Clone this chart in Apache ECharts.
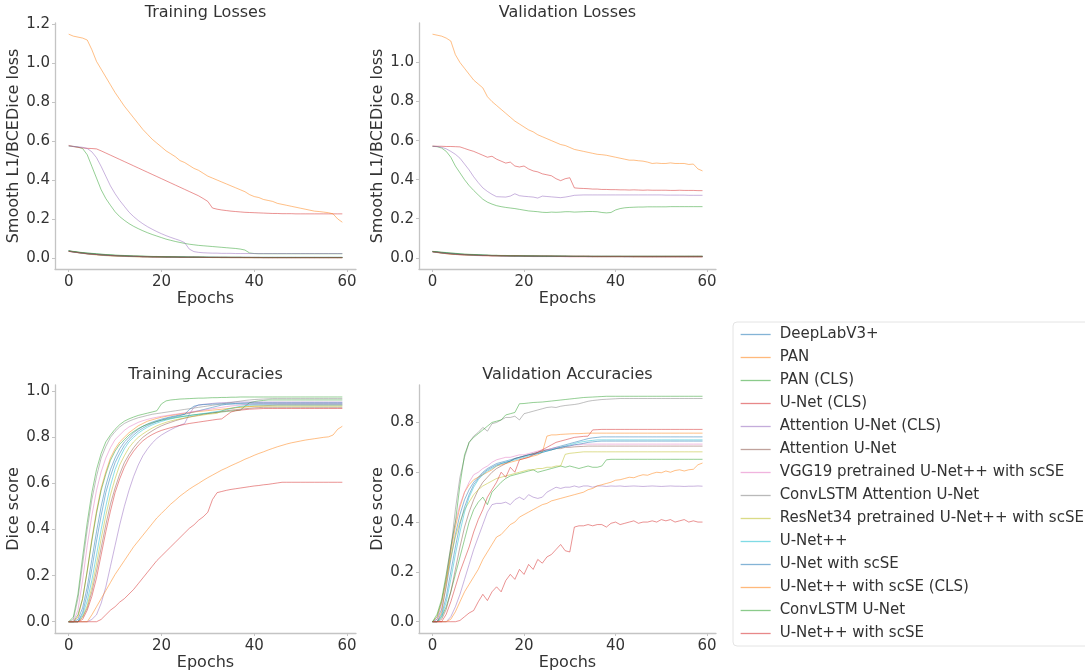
<!DOCTYPE html>
<html>
<head>
<meta charset="utf-8">
<script src="https://cdn.jsdelivr.net/npm/echarts@6/dist/echarts.min.js"></script>
<style>
  html, body { margin: 0; padding: 0; background: #fff; }
  #chart { width: 1085px; height: 672px; }
</style>
</head>
<body>
<div id="chart"></div>
<script>
// legend order, colours follow the default tab10 cycle
const models = [
  "DeepLabV3+", "PAN", "PAN (CLS)", "U-Net (CLS)", "Attention U-Net (CLS)",
  "Attention U-Net", "VGG19 pretrained U-Net++ with scSE", "ConvLSTM Attention U-Net",
  "ResNet34 pretrained U-Net++ with scSE", "U-Net++", "U-Net with scSE",
  "U-Net++ with scSE (CLS)", "ConvLSTM U-Net", "U-Net++ with scSE"
];
const colors = [
  "#1f77b4", "#ff7f0e", "#2ca02c", "#d62728", "#9467bd", "#8c564b", "#e377c2",
  "#7f7f7f", "#bcbd22", "#17becf", "#1f77b4", "#ff7f0e", "#2ca02c", "#d62728"
];

const xTicks = [0, 20, 40, 60];
const trainLossTicks = [0, 0.2, 0.4, 0.6, 0.8, 1.0, 1.2];
const valLossTicks = [0, 0.2, 0.4, 0.6, 0.8, 1.0];
const trainAccTicks = [0, 0.2, 0.4, 0.6, 0.8, 1.0];
const valAccTicks = [0, 0.2, 0.4, 0.6, 0.8];

// one row per model (same order as models), epochs 0..59
const trainLoss = [
  [.035,.031,.027,.024,.021,.019,.017,.015,.013,.012,
   .011,.010,.009,.008,.007,.007,.006,.006,.005,.005,
   .004,.004,.004,.004,.003,.003,.003,.003,.003,.003,
   .002,.002,.002,.002,.002,.002,.002,.002,.002,.002,
   .002,.002,.002,.002,.002,.002,.002,.002,.002,.002,
   .002,.002,.002,.002,.002,.002,.002,.002,.002,.002],
  [.034,.031,.028,.025,.022,.020,.018,.016,.014,.013,
   .012,.011,.010,.009,.008,.008,.007,.006,.006,.005,
   .005,.005,.004,.004,.004,.003,.003,.003,.003,.003,
   .002,.002,.002,.002,.002,.002,.002,.002,.001,.001,
   .001,.001,.001,.001,.001,.001,.001,.001,.001,.001,
   .001,.001,.001,.001,.001,.001,.001,.001,.001,.001],
  [.575,.573,.569,.562,.530,.470,.410,.350,.305,.270,
   .237,.212,.193,.176,.162,.150,.139,.129,.120,.112,
   .104,.096,.090,.084,.079,.074,.070,.067,.064,.062,
   .060,.058,.056,.054,.052,.050,.048,.045,.040,.025,
   .022,.021,.021,.021,.021,.021,.021,.021,.021,.021,
   .021,.021,.021,.021,.021,.021,.021,.021,.021,.021],
  [.578,.572,.568,.565,.563,.562,.560,.550,.539,.528,
   .517,.506,.495,.484,.473,.462,.451,.440,.429,.418,
   .407,.396,.385,.374,.363,.352,.341,.330,.319,.305,
   .290,.256,.250,.246,.243,.240,.238,.236,.234,.233,
   .232,.231,.230,.229,.228,.228,.227,.227,.227,.226,
   .226,.226,.226,.226,.226,.226,.226,.226,.226,.226],
  [.575,.573,.571,.568,.562,.545,.515,.470,.420,.370,
   .330,.295,.265,.235,.212,.192,.175,.160,.147,.135,
   .124,.114,.105,.097,.089,.078,.045,.032,.028,.026,
   .025,.024,.024,.023,.023,.023,.022,.022,.022,.022,
   .022,.022,.022,.022,.022,.022,.022,.022,.022,.022,
   .022,.022,.022,.022,.022,.022,.022,.022,.022,.022],
  [.036,.032,.028,.025,.022,.019,.017,.015,.013,.011,
   .010,.009,.008,.007,.006,.006,.005,.005,.004,.004,
   .004,.003,.003,.003,.003,.002,.002,.002,.002,.002,
   .002,.002,.002,.001,.001,.001,.001,.001,.001,.001,
   .001,.001,.001,.001,.001,.001,.001,.001,.001,.001,
   .001,.001,.001,.001,.001,.001,.001,.001,.001,.001],
  [.033,.029,.026,.023,.020,.018,.016,.014,.012,.011,
   .010,.009,.008,.007,.007,.006,.005,.005,.005,.004,
   .004,.004,.003,.003,.003,.003,.002,.002,.002,.002,
   .002,.002,.002,.002,.002,.001,.001,.001,.001,.001,
   .001,.001,.001,.001,.001,.001,.001,.001,.001,.001,
   .001,.001,.001,.001,.001,.001,.001,.001,.001,.001],
  [.035,.032,.029,.026,.024,.022,.020,.018,.016,.015,
   .013,.012,.011,.010,.009,.009,.008,.007,.007,.006,
   .006,.005,.005,.005,.004,.004,.004,.004,.003,.003,
   .003,.003,.003,.003,.003,.002,.002,.002,.002,.002,
   .002,.002,.002,.002,.002,.002,.002,.002,.002,.002,
   .002,.002,.002,.002,.002,.002,.002,.002,.002,.002],
  [.034,.030,.026,.023,.020,.017,.015,.013,.011,.010,
   .009,.008,.007,.006,.006,.005,.005,.004,.004,.004,
   .003,.003,.003,.003,.002,.002,.002,.002,.002,.002,
   .002,.001,.001,.001,.001,.001,.001,.001,.001,.001,
   .001,.001,.001,.001,.001,.001,.001,.001,.001,.001,
   .001,.001,.001,.001,.001,.001,.001,.001,.001,.001],
  [.035,.031,.028,.025,.023,.021,.019,.017,.015,.014,
   .012,.011,.010,.009,.008,.008,.007,.006,.006,.006,
   .005,.005,.004,.004,.004,.004,.003,.003,.003,.003,
   .003,.003,.002,.002,.002,.002,.002,.002,.002,.002,
   .002,.002,.002,.002,.002,.002,.002,.002,.002,.002,
   .002,.002,.002,.002,.002,.002,.002,.002,.002,.002],
  [.034,.030,.027,.024,.021,.019,.017,.015,.013,.012,
   .011,.010,.009,.008,.007,.007,.006,.006,.005,.005,
   .005,.004,.004,.004,.003,.003,.003,.003,.003,.002,
   .002,.002,.002,.002,.002,.002,.002,.002,.002,.002,
   .001,.001,.001,.001,.001,.001,.001,.001,.001,.001,
   .001,.001,.001,.001,.001,.001,.001,.001,.001,.001],
  [1.15,1.14,1.135,1.13,1.12,1.07,1.01,.97,.93,.89,
   .85,.815,.78,.75,.72,.69,.66,.635,.61,.59,
   .57,.55,.535,.52,.50,.49,.475,.46,.45,.435,
   .42,.41,.40,.39,.38,.37,.36,.35,.34,.325,
   .315,.31,.30,.295,.29,.28,.275,.27,.265,.26,
   .255,.25,.245,.24,.238,.235,.232,.226,.20,.183],
  [.036,.033,.030,.027,.025,.023,.021,.019,.017,.016,
   .014,.013,.012,.011,.010,.009,.009,.008,.007,.007,
   .006,.006,.006,.005,.005,.005,.004,.004,.004,.004,
   .003,.003,.003,.003,.003,.003,.003,.003,.002,.002,
   .002,.002,.002,.002,.002,.002,.002,.002,.002,.002,
   .002,.002,.002,.002,.002,.002,.002,.002,.002,.002],
  [.033,.030,.027,.024,.021,.019,.017,.015,.014,.012,
   .011,.010,.009,.008,.008,.007,.006,.006,.005,.005,
   .005,.004,.004,.004,.003,.003,.003,.003,.003,.002,
   .002,.002,.002,.002,.002,.002,.002,.002,.002,.002,
   .002,.002,.001,.001,.001,.001,.001,.001,.001,.001,
   .001,.001,.001,.001,.001,.001,.001,.001,.001,.001]
];

const valLoss = [
  [.032,.029,.026,.023,.021,.019,.017,.016,.015,.014,
   .013,.012,.012,.011,.011,.010,.010,.010,.009,.009,
   .009,.009,.008,.008,.008,.008,.008,.008,.007,.007,
   .007,.007,.007,.007,.007,.007,.007,.007,.007,.007,
   .007,.007,.006,.006,.006,.006,.006,.006,.006,.006,
   .006,.006,.006,.006,.006,.006,.006,.006,.006,.006],
  [.031,.028,.025,.022,.020,.018,.016,.015,.014,.013,
   .012,.011,.011,.010,.010,.009,.009,.009,.008,.008,
   .008,.008,.008,.007,.007,.007,.007,.007,.007,.007,
   .006,.006,.006,.006,.006,.006,.006,.006,.006,.006,
   .006,.006,.006,.006,.005,.005,.005,.005,.005,.005,
   .005,.005,.005,.005,.005,.005,.005,.005,.005,.005],
  [.571,.569,.562,.545,.515,.470,.435,.400,.370,.345,
   .322,.300,.285,.275,.267,.262,.258,.255,.252,.248,
   .244,.240,.238,.236,.233,.232,.234,.233,.234,.236,
   .236,.234,.235,.236,.237,.237,.236,.232,.230,.232,
   .245,.252,.256,.258,.259,.260,.260,.261,.261,.261,
   .261,.261,.262,.262,.262,.262,.262,.262,.262,.262],
  [.572,.571,.571,.570,.570,.569,.568,.560,.552,.545,
   .535,.525,.515,.520,.505,.495,.485,.490,.470,.465,
   .470,.455,.445,.440,.430,.425,.420,.405,.395,.405,
   .410,.358,.356,.355,.354,.352,.352,.350,.350,.349,
   .349,.348,.348,.347,.348,.347,.346,.347,.346,.346,
   .346,.346,.345,.345,.346,.345,.345,.345,.344,.344],
  [.571,.570,.566,.558,.545,.530,.510,.480,.450,.415,
   .385,.358,.340,.325,.313,.312,.311,.316,.328,.318,
   .315,.313,.311,.306,.316,.314,.312,.310,.308,.311,
   .315,.320,.321,.322,.322,.322,.322,.322,.322,.322,
   .322,.322,.322,.322,.322,.322,.322,.322,.322,.322,
   .322,.321,.321,.321,.321,.321,.320,.320,.320,.320],
  [.033,.030,.027,.024,.022,.020,.018,.017,.016,.015,
   .014,.013,.013,.012,.012,.011,.011,.011,.010,.010,
   .010,.010,.009,.009,.009,.009,.009,.009,.009,.008,
   .008,.008,.008,.008,.008,.008,.008,.008,.008,.008,
   .008,.008,.008,.008,.008,.008,.008,.008,.008,.008,
   .008,.008,.008,.008,.008,.008,.008,.008,.008,.008],
  [.030,.027,.024,.021,.019,.017,.015,.014,.013,.012,
   .011,.010,.010,.009,.009,.008,.008,.008,.007,.007,
   .007,.007,.006,.006,.006,.006,.006,.006,.006,.005,
   .005,.005,.005,.005,.005,.005,.005,.005,.005,.005,
   .005,.005,.005,.005,.005,.005,.004,.004,.004,.004,
   .004,.004,.004,.004,.004,.004,.004,.004,.004,.004],
  [.032,.030,.028,.026,.024,.022,.020,.018,.017,.016,
   .015,.014,.013,.012,.012,.011,.011,.010,.010,.010,
   .009,.009,.009,.009,.008,.008,.008,.008,.008,.008,
   .007,.007,.007,.007,.007,.007,.007,.007,.007,.007,
   .007,.007,.007,.007,.007,.007,.007,.007,.007,.007,
   .007,.007,.007,.007,.007,.007,.007,.007,.007,.007],
  [.031,.027,.024,.021,.019,.017,.016,.015,.014,.013,
   .012,.012,.011,.011,.010,.010,.010,.009,.009,.009,
   .009,.008,.008,.008,.008,.008,.008,.007,.007,.007,
   .007,.007,.007,.007,.007,.006,.006,.006,.006,.006,
   .006,.006,.006,.006,.006,.006,.006,.006,.006,.006,
   .006,.006,.006,.006,.006,.006,.006,.006,.006,.006],
  [.032,.029,.026,.024,.022,.020,.018,.017,.016,.015,
   .014,.013,.012,.012,.011,.011,.010,.010,.010,.009,
   .009,.009,.009,.008,.008,.008,.008,.008,.008,.008,
   .007,.007,.007,.007,.007,.007,.007,.007,.007,.007,
   .007,.007,.007,.007,.007,.007,.007,.007,.007,.007,
   .007,.007,.007,.007,.007,.007,.007,.007,.007,.007],
  [.031,.028,.025,.023,.021,.019,.017,.016,.015,.014,
   .013,.012,.012,.011,.011,.010,.010,.009,.009,.009,
   .009,.008,.008,.008,.008,.008,.007,.007,.007,.007,
   .007,.007,.007,.007,.006,.006,.006,.006,.006,.006,
   .006,.006,.006,.006,.006,.006,.006,.006,.006,.006,
   .006,.006,.006,.006,.006,.006,.006,.006,.006,.006],
  [1.145,1.14,1.135,1.125,1.11,1.04,1.00,.97,.94,.91,
   .89,.87,.825,.80,.78,.76,.74,.72,.70,.685,
   .67,.655,.645,.63,.62,.61,.60,.59,.58,.575,
   .565,.555,.55,.545,.54,.535,.53,.528,.525,.52,
   .515,.51,.505,.50,.50,.497,.495,.49,.483,.485,
   .483,.483,.486,.483,.483,.483,.478,.48,.455,.445],
  [.033,.031,.029,.027,.025,.023,.021,.019,.018,.017,
   .016,.015,.014,.013,.013,.012,.012,.011,.011,.011,
   .010,.010,.010,.010,.009,.009,.009,.009,.009,.009,
   .009,.008,.008,.008,.008,.008,.008,.008,.008,.008,
   .008,.008,.008,.008,.008,.008,.008,.008,.008,.008,
   .008,.008,.008,.008,.008,.008,.008,.008,.008,.008],
  [.031,.028,.025,.022,.020,.018,.017,.016,.015,.014,
   .013,.012,.012,.011,.011,.011,.010,.010,.010,.010,
   .009,.009,.009,.009,.009,.009,.009,.008,.008,.008,
   .008,.008,.008,.008,.008,.007,.007,.007,.007,.007,
   .007,.007,.007,.007,.007,.007,.007,.007,.007,.007,
   .007,.007,.007,.007,.007,.007,.007,.007,.007,.007]
];

const trainAcc = [
  [0,0,.01,.06,.15,.27,.39,.50,.59,.66,
   .71,.75,.78,.80,.82,.835,.848,.858,.866,.873,
   .879,.884,.889,.893,.897,.90,.905,.91,.915,.92,
   .925,.93,.935,.94,.943,.945,.947,.948,.949,.95,
   .95,.95,.95,.95,.95,.95,.95,.95,.95,.95,
   .95,.95,.95,.95,.95,.95,.95,.95,.95,.95],
  [0,0,.02,.10,.22,.36,.48,.58,.65,.71,
   .75,.78,.80,.82,.835,.85,.86,.87,.876,.882,
   .887,.891,.895,.898,.901,.904,.907,.91,.912,.914,
   .916,.918,.92,.922,.924,.926,.928,.93,.932,.934,
   .935,.936,.937,.938,.939,.94,.94,.94,.94,.94,
   .94,.94,.94,.94,.94,.94,.94,.94,.94,.94],
  [0,0,.03,.10,.22,.35,.47,.57,.64,.70,
   .74,.77,.79,.81,.825,.838,.848,.856,.863,.869,
   .874,.878,.882,.886,.889,.892,.895,.898,.90,.902,
   .904,.906,.908,.91,.912,.914,.916,.918,.935,.95,
   .955,.958,.96,.962,.962,.962,.962,.962,.962,.962,
   .962,.962,.962,.962,.962,.962,.962,.962,.962,.962],
  [0,0,0,0,0,0,0,.01,.03,.05,
   .065,.085,.10,.12,.14,.165,.19,.215,.24,.265,
   .285,.305,.325,.345,.365,.385,.405,.42,.44,.455,
   .475,.53,.56,.565,.57,.574,.577,.58,.583,.586,
   .589,.591,.594,.596,.599,.602,.605,.605,.605,.605,
   .605,.605,.605,.605,.605,.605,.605,.605,.605,.605],
  [0,0,0,0,0,.01,.03,.08,.15,.24,
   .33,.42,.50,.57,.63,.68,.72,.75,.775,.795,
   .81,.822,.833,.843,.852,.86,.90,.93,.94,.943,
   .945,.947,.949,.95,.951,.952,.953,.953,.953,.953,
   .953,.953,.953,.953,.953,.953,.953,.953,.953,.953,
   .953,.953,.953,.953,.953,.953,.953,.953,.953,.953],
  [0,0,0,.02,.06,.13,.22,.32,.42,.51,
   .58,.64,.69,.725,.755,.78,.80,.815,.828,.84,
   .85,.858,.865,.872,.878,.883,.888,.892,.896,.90,
   .903,.906,.909,.912,.915,.918,.92,.922,.924,.926,
   .928,.929,.93,.93,.93,.93,.93,.93,.93,.93,
   .93,.93,.93,.93,.93,.93,.93,.93,.93,.93],
  [0,0,.05,.18,.33,.46,.57,.65,.71,.755,
   .79,.81,.83,.845,.855,.865,.872,.878,.883,.887,
   .891,.894,.897,.90,.903,.906,.909,.912,.915,.918,
   .921,.924,.927,.93,.933,.936,.938,.94,.942,.943,
   .944,.945,.945,.945,.945,.945,.945,.945,.945,.945,
   .945,.945,.945,.945,.945,.945,.945,.945,.945,.945],
  [0,.01,.10,.25,.40,.53,.63,.71,.76,.80,
   .825,.845,.86,.87,.878,.885,.89,.895,.90,.903,
   .906,.909,.912,.915,.918,.921,.924,.927,.93,.933,
   .936,.939,.942,.945,.948,.951,.954,.957,.96,.962,
   .964,.965,.966,.967,.968,.968,.968,.968,.968,.968,
   .968,.968,.968,.968,.968,.968,.968,.968,.968,.968],
  [0,0,0,.02,.07,.15,.25,.36,.46,.55,
   .62,.68,.72,.755,.78,.80,.815,.828,.84,.85,
   .858,.865,.871,.876,.88,.884,.888,.891,.894,.897,
   .90,.902,.904,.915,.922,.926,.929,.931,.932,.933,
   .935,.935,.935,.935,.935,.935,.935,.935,.935,.935,
   .935,.935,.935,.935,.935,.935,.935,.935,.935,.935],
  [0,0,0,.03,.09,.18,.29,.40,.50,.59,
   .66,.71,.75,.78,.80,.818,.832,.844,.854,.862,
   .869,.875,.88,.884,.888,.891,.894,.897,.90,.903,
   .906,.909,.912,.915,.92,.925,.93,.934,.937,.939,
   .94,.94,.94,.94,.94,.94,.94,.94,.94,.94,
   .94,.94,.94,.94,.94,.94,.94,.94,.94,.94],
  [0,0,0,.04,.12,.23,.35,.46,.56,.63,
   .69,.73,.765,.79,.81,.827,.84,.851,.86,.868,
   .875,.881,.886,.89,.894,.90,.92,.935,.94,.942,
   .943,.944,.945,.945,.945,.945,.945,.945,.945,.945,
   .945,.945,.945,.945,.945,.945,.945,.945,.945,.945,
   .945,.945,.945,.945,.945,.945,.945,.945,.945,.945],
  [0,0,0,0,0,.03,.065,.10,.135,.17,
   .205,.235,.265,.295,.325,.35,.375,.40,.425,.45,
   .47,.49,.51,.527,.545,.56,.575,.588,.60,.613,
   .625,.636,.647,.658,.667,.677,.686,.695,.705,.713,
   .722,.73,.737,.745,.752,.759,.765,.771,.776,.78,
   .784,.788,.791,.794,.797,.80,.802,.81,.835,.848],
  [0,.02,.12,.28,.43,.56,.66,.73,.78,.81,
   .835,.855,.87,.88,.888,.895,.90,.905,.91,.915,
   .945,.958,.962,.964,.966,.967,.968,.969,.97,.97,
   .971,.972,.972,.973,.973,.974,.974,.975,.975,.975,
   .975,.975,.975,.975,.975,.975,.975,.975,.975,.975,
   .975,.975,.975,.975,.975,.975,.975,.975,.975,.975],
  [0,0,0,.01,.05,.11,.19,.29,.39,.48,
   .56,.62,.67,.71,.74,.765,.785,.80,.812,.822,
   .83,.836,.842,.847,.852,.856,.86,.863,.866,.869,
   .872,.875,.878,.88,.895,.91,.915,.918,.92,.922,
   .923,.924,.925,.925,.925,.925,.925,.925,.925,.925,
   .925,.925,.925,.925,.925,.925,.925,.925,.925,.925]
];

const valAcc = [
  [0,.01,.05,.14,.25,.35,.43,.49,.53,.56,
   .58,.60,.615,.625,.635,.64,.645,.65,.655,.66,
   .665,.67,.675,.68,.685,.69,.695,.70,.705,.71,
   .715,.72,.725,.73,.735,.738,.74,.742,.742,.742,
   .742,.742,.742,.742,.742,.742,.742,.742,.742,.742,
   .742,.742,.742,.742,.742,.742,.742,.742,.742,.742],
  [0,0,.04,.15,.28,.38,.46,.52,.55,.57,
   .58,.59,.60,.61,.625,.63,.635,.64,.645,.65,
   .655,.66,.665,.67,.68,.745,.75,.75,.752,.753,
   .754,.755,.755,.756,.757,.757,.757,.757,.757,.757,
   .757,.757,.757,.757,.757,.757,.757,.757,.757,.757,
   .757,.757,.757,.757,.757,.757,.757,.757,.757,.757],
  [0,0,.02,.06,.12,.19,.26,.33,.40,.45,
   .48,.50,.47,.52,.54,.56,.575,.585,.59,.595,
   .60,.605,.61,.60,.605,.61,.615,.62,.625,.62,
   .625,.62,.615,.62,.625,.62,.62,.625,.65,.652,
   .652,.652,.652,.652,.652,.652,.652,.652,.652,.652,
   .652,.652,.652,.652,.652,.652,.652,.652,.652,.652],
  [0,0,0,0,0,0,.005,.02,.035,.045,
   .08,.11,.085,.12,.14,.12,.165,.19,.17,.21,
   .19,.23,.21,.25,.235,.26,.27,.29,.31,.285,
   .28,.38,.385,.385,.39,.385,.39,.39,.38,.395,
   .40,.39,.395,.40,.405,.395,.40,.40,.405,.40,
   .41,.405,.41,.40,.405,.41,.40,.405,.40,.40],
  [0,0,0,0,.02,.06,.11,.17,.23,.29,
   .34,.39,.44,.47,.475,.475,.48,.47,.49,.50,
   .49,.51,.50,.495,.50,.52,.53,.54,.535,.54,
   .54,.545,.54,.545,.545,.54,.545,.545,.543,.545,
   .544,.545,.543,.544,.545,.544,.543,.544,.545,.544,
   .543,.544,.545,.544,.544,.543,.544,.544,.545,.544],
  [0,0,.01,.05,.12,.21,.30,.38,.44,.49,
   .53,.56,.58,.60,.615,.625,.635,.645,.655,.66,
   .665,.67,.675,.68,.685,.69,.69,.695,.695,.70,
   .70,.702,.703,.704,.705,.705,.705,.705,.705,.705,
   .705,.705,.705,.705,.705,.705,.705,.705,.705,.705,
   .705,.705,.705,.705,.705,.705,.705,.705,.705,.705],
  [0,.01,.07,.18,.30,.40,.47,.52,.56,.59,
   .60,.615,.625,.64,.65,.655,.66,.66,.665,.67,
   .67,.675,.68,.685,.69,.69,.695,.70,.70,.705,
   .705,.71,.71,.713,.713,.713,.713,.713,.713,.713,
   .713,.713,.713,.713,.713,.713,.713,.713,.713,.713,
   .713,.713,.713,.713,.713,.713,.713,.713,.713,.713],
  [0,.02,.08,.17,.29,.45,.58,.66,.72,.745,
   .76,.78,.765,.795,.80,.81,.82,.82,.825,.81,
   .835,.84,.845,.85,.855,.86,.862,.86,.865,.868,
   .87,.872,.875,.88,.885,.888,.89,.892,.893,.894,
   .895,.896,.896,.896,.896,.896,.896,.896,.896,.896,
   .896,.896,.896,.896,.896,.896,.896,.896,.896,.896],
  [0,.02,.08,.17,.26,.34,.40,.45,.48,.51,
   .53,.545,.555,.565,.575,.58,.585,.59,.595,.60,
   .605,.61,.61,.615,.615,.62,.62,.625,.625,.672,
   .676,.678,.68,.682,.682,.682,.682,.682,.682,.682,
   .682,.682,.682,.682,.682,.682,.682,.682,.682,.682,
   .682,.682,.682,.682,.682,.682,.682,.682,.682,.682],
  [0,0,.02,.08,.17,.27,.36,.44,.50,.54,
   .57,.59,.605,.615,.625,.635,.64,.645,.65,.655,
   .66,.665,.67,.675,.68,.685,.69,.695,.70,.705,
   .71,.715,.72,.723,.726,.728,.73,.73,.73,.73,
   .73,.73,.73,.73,.73,.73,.73,.73,.73,.73,
   .73,.73,.73,.73,.73,.73,.73,.73,.73,.73],
  [0,0,.03,.10,.20,.30,.39,.46,.51,.55,
   .575,.595,.61,.62,.63,.635,.64,.645,.655,.66,
   .665,.67,.672,.675,.68,.685,.69,.695,.70,.703,
   .706,.71,.713,.716,.72,.722,.724,.725,.725,.725,
   .725,.725,.725,.725,.725,.725,.725,.725,.725,.725,
   .725,.725,.725,.725,.725,.725,.725,.725,.725,.725],
  [0,0,0,0,.01,.04,.08,.12,.15,.18,
   .21,.25,.28,.31,.34,.35,.37,.39,.40,.42,
   .43,.44,.45,.46,.47,.475,.485,.49,.495,.50,
   .505,.51,.515,.52,.53,.535,.545,.55,.555,.56,
   .568,.57,.575,.58,.578,.585,.59,.588,.595,.60,
   .598,.605,.60,.607,.61,.605,.61,.612,.63,.637],
  [0,.03,.09,.19,.30,.40,.55,.67,.72,.74,
   .755,.77,.785,.80,.805,.81,.83,.835,.84,.875,
   .876,.878,.88,.881,.882,.884,.886,.888,.89,.892,
   .894,.896,.898,.90,.901,.902,.903,.904,.905,.905,
   .905,.905,.905,.905,.905,.905,.905,.905,.905,.905,
   .905,.905,.905,.905,.905,.905,.905,.905,.905,.905],
  [0,0,0,.03,.08,.14,.20,.25,.30,.36,
   .41,.45,.50,.53,.56,.60,.58,.62,.60,.65,
   .655,.66,.67,.68,.69,.70,.71,.72,.725,.73,
   .735,.74,.742,.744,.745,.77,.771,.772,.772,.772,
   .772,.772,.772,.772,.772,.772,.772,.772,.772,.772,
   .772,.772,.772,.772,.772,.772,.772,.772,.772,.772]
];

const FONT = "DejaVu Sans";
const TEXT = "#333";
const AXIS = "#c4c4c4";

const panels = [
  { title: "Training Losses", yName: "Smooth L1/BCEDice loss", data: trainLoss, ticks: trainLossTicks,
    min: -0.0575, max: 1.2075, left: 55, top: 23, width: 301, height: 246 },
  { title: "Validation Losses", yName: "Smooth L1/BCEDice loss", data: valLoss, ticks: valLossTicks,
    min: -0.0573, max: 1.2023, left: 419, top: 23, width: 297, height: 246 },
  { title: "Training Accuracies", yName: "Dice score", data: trainAcc, ticks: trainAccTicks,
    min: -0.0489, max: 1.027, left: 55, top: 385, width: 301, height: 248 },
  { title: "Validation Accuracies", yName: "Dice score", data: valAcc, ticks: valAccTicks,
    min: -0.0453, max: 0.9503, left: 419, top: 385, width: 297, height: 248 }
];

const chart = echarts.init(document.getElementById("chart"));

const grids = [], xAxes = [], yAxes = [], series = [], texts = [];
panels.forEach((p, gi) => {
  grids.push({ left: p.left, top: p.top, width: p.width, height: p.height });
  xAxes.push({
    type: "value", gridIndex: gi, min: -2.95, max: 61.95,
    name: "Epochs", nameLocation: "middle", nameGap: 15,
    nameTextStyle: { fontSize: 16, color: TEXT, fontFamily: FONT },
    axisLine: { show: true, onZero: false, lineStyle: { color: AXIS, width: 1.3 } },
    axisTick: { show: true, length: 3, customValues: xTicks, lineStyle: { color: AXIS } },
    axisLabel: { customValues: xTicks, fontSize: 15, color: TEXT, fontFamily: FONT, margin: 6 },
    splitLine: { show: false }
  });
  yAxes.push({
    type: "value", gridIndex: gi, min: p.min, max: p.max,
    name: p.yName, nameLocation: "middle", nameGap: 20,
    nameTextStyle: { fontSize: 16, color: TEXT, fontFamily: FONT },
    axisLine: { show: true, onZero: false, lineStyle: { color: AXIS, width: 1.3 } },
    axisTick: { show: true, length: 3, customValues: p.ticks, lineStyle: { color: AXIS } },
    axisLabel: { customValues: p.ticks, fontSize: 15, color: TEXT, fontFamily: FONT, margin: 5,
      formatter: v => v.toFixed(1) },
    splitLine: { show: false }
  });
  texts.push({
    type: "text", x: p.left + p.width / 2, y: p.top - 10,
    style: { text: p.title, font: "16px " + FONT, fill: TEXT, align: "center", verticalAlign: "middle" }
  });
  models.forEach((m, k) => {
    series.push({
      type: "line", name: m, xAxisIndex: gi, yAxisIndex: gi,
      data: p.data[k].map((v, e) => [e, v]),
      symbol: "none", silent: true,
      lineStyle: { width: 1, color: colors[k], opacity: 0.5 },
      itemStyle: { color: colors[k] }
    });
  });
});

chart.setOption({
  animation: false,
  backgroundColor: "#fff",
  grid: grids,
  xAxis: xAxes,
  yAxis: yAxes,
  graphic: texts,
  legend: {
    data: models, orient: "vertical", left: 733, top: 322,
    padding: [5, 8, 5, 7], itemWidth: 30, itemHeight: 14, itemGap: 8,
    itemStyle: { opacity: 0 },
    lineStyle: { width: 1.3, opacity: 0.55 },
    backgroundColor: "#fff", borderColor: "#e4e4e4", borderWidth: 1, borderRadius: 4,
    selectedMode: false,
    textStyle: { fontSize: 15, color: TEXT, fontFamily: FONT, lineHeight: 14, padding: [0, 0, 0, 4] }
  },
  series: series
});
</script>
</body>
</html>
